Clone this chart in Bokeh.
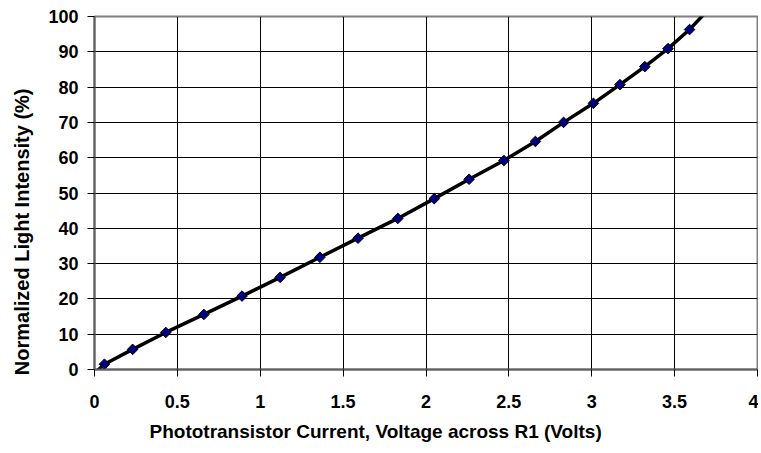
import math
from bokeh.plotting import figure
from bokeh.models import Range1d, FixedTicker, ColumnDataSource, Title
from bokeh.embed import file_html
from bokeh.resources import INLINE

# Data
voltage = [0.06, 0.23, 0.43, 0.66, 0.89, 1.12, 1.36, 1.59, 1.83, 2.05, 2.26, 2.47,
           2.66, 2.83, 3.01, 3.17, 3.32, 3.46, 3.59]
intensity = [1.5, 5.7, 10.5, 15.6, 20.8, 26.1, 31.8, 37.2, 42.8, 48.4, 53.9, 59.2,
             64.6, 70.0, 75.4, 80.7, 85.8, 90.9, 96.3]
# trend line drawn through the points, with its end points
trend_x = [-0.01] + voltage + [3.70]
trend_y = [-1.5] + intensity + [101.8]

x_ticks = [0, 0.5, 1, 1.5, 2, 2.5, 3, 3.5, 4]
x_tick_labels = ["0", "0.5", "1", "1.5", "2", "2.5", "3", "3.5", "4"]
y_ticks = [0, 10, 20, 30, 40, 50, 60, 70, 80, 90, 100]
y_tick_labels = ["0", "10", "20", "30", "40", "50", "60", "70", "80", "90", "100"]
x_title = "Phototransistor Current, Voltage across R1 (Volts)"
y_title = "Normalized Light Intensity (%)"

FONT = "Liberation Sans"

p = figure(width=758, height=453, output_backend="svg", toolbar_location=None,
           x_range=Range1d(0, 4), y_range=Range1d(0, 100),
           min_border_left=93, min_border_right=1, min_border_top=16, min_border_bottom=84)
p.background_fill_color = "white"
p.border_fill_color = "white"
p.outline_line_color = "#808080"
p.outline_line_width = 2

# grids
p.xgrid.ticker = FixedTicker(ticks=x_ticks)
p.ygrid.ticker = FixedTicker(ticks=y_ticks)
for g in (p.xgrid, p.ygrid):
    g.grid_line_color = "black"
    g.grid_line_width = 1

# axes
p.xaxis.ticker = FixedTicker(ticks=x_ticks)
p.yaxis.ticker = FixedTicker(ticks=y_ticks)
p.xaxis.major_label_overrides = {t: l for t, l in zip(x_ticks, x_tick_labels)}
p.yaxis.major_label_overrides = {t: l for t, l in zip(y_ticks, y_tick_labels)}
for ax in (p.xaxis[0], p.yaxis[0]):
    ax.axis_line_color = "#606060"
    ax.axis_line_width = 2
    ax.major_tick_line_color = "black"
    ax.major_tick_line_width = 1
    ax.major_tick_out = 7
    ax.major_tick_in = 0
    ax.minor_tick_line_color = None
    ax.major_label_text_font = FONT
    ax.major_label_text_font_style = "bold"
    ax.major_label_text_font_size = "18px"
    ax.major_label_text_color = "black"
p.xaxis.major_label_standoff = 18
p.yaxis.major_label_standoff = 9

# axis titles (placed off-centre like in the reference)
p.add_layout(Title(text=x_title, align="left", offset=55, standoff=16,
                   text_font=FONT, text_font_style="bold", text_font_size="19px",
                   text_color="black"), "below")
p.add_layout(Title(text=y_title, align="right", offset=72, standoff=21,
                   vertical_align="top",
                   text_font=FONT, text_font_style="bold", text_font_size="20px",
                   text_color="black"), "left")

src = ColumnDataSource(data=dict(x=voltage, y=intensity))
p.line(trend_x, trend_y, line_color="black", line_width=3.5)
p.scatter("x", "y", source=src, marker="square", angle=math.pi / 4, size=7.5,
          fill_color="#000080", line_color="black", line_width=1)

open("out.html", "w").write(file_html(p, INLINE))
